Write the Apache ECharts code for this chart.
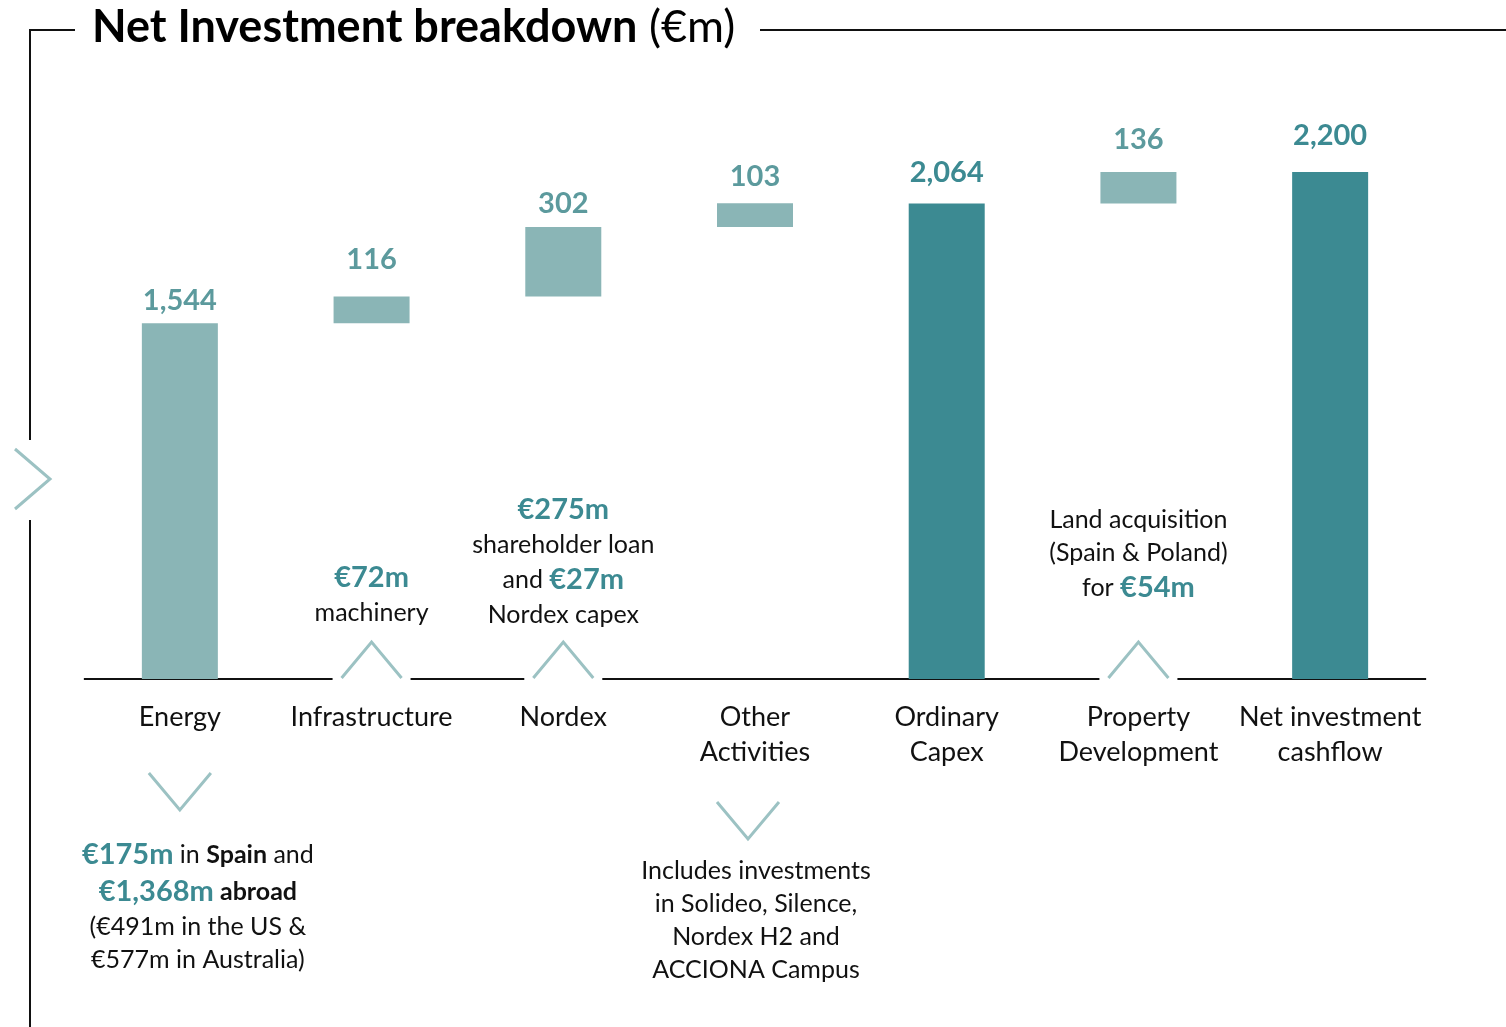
<!DOCTYPE html>
<html>
<head>
<meta charset="utf-8">
<title>Net Investment breakdown</title>
<script src="https://cdn.jsdelivr.net/npm/echarts@6/dist/echarts.min.js"></script>
<style>
  html, body { margin: 0; padding: 0; background: #fff; }
  #chart { width: 1506px; height: 1027px; }
</style>
</head>
<body>
<div id="chart"></div>
<script>
// data
const categories = ['Energy', 'Infrastructure', 'Nordex', 'Other\nActivities', 'Ordinary\nCapex', 'Property\nDevelopment', 'Net investment\ncashflow']
const values = [1544, 116, 302, 103, 2064, 136, 2200]
const isTotal = [false, false, false, false, true, false, true]

// notes above the axis (chevron pointing up) and below (chevron pointing down)
const notesAbove = [
  { cat: 'Infrastructure', lines: ['{hl|€72m}', '{t|machinery}'] },
  { cat: 'Nordex', lines: ['{hl|€275m}', '{t|shareholder loan}', '{t|and }{hl|€27m}', '{t|Nordex capex}'] },
  { cat: 'Property\nDevelopment', lines: ['{t|Land acquisition}', '{t|(Spain & Poland)}', '{t|for }{hl|€54m}'] }
]
const notesBelow = [
  { cat: 'Energy', lines: ['{hl|€175m}{t| in }{b|Spain}{t| and}', '{hl|€1,368m}{b| abroad}', '{t|(€491m in the US &}', '{t|€577m in Australia)}'] },
  { cat: 'Other\nActivities', lines: ['{t|Includes investments}', '{t|in Solideo, Silence,}', '{t|Nordex H2 and}', '{t|ACCIONA Campus}'] }
]

const LIGHT = '#8ab5b6'
const DARK = '#3c8a92'
const LABEL_LIGHT = '#5c9a9d'
const CHEV = '#9cc2c3'
const FONT = 'Lato, "Open Sans", sans-serif'
// gap between bar top and its value label, per bar
const labelGap = [8, 22, 9, 12, 16, 18, 22]

// running bases of the waterfall
const bases = []
let run = 0
values.forEach((v, i) => {
  if (isTotal[i]) {
    bases.push(0)
    run = v
  } else {
    bases.push(run)
    run += v
  }
})

const chart = echarts.init(document.getElementById('chart'))

const option = {
  animation: false,
  textStyle: { fontFamily: FONT },
  grid: { left: 84, right: 80, top: 103, bottom: 348 },
  xAxis: {
    type: 'category',
    data: categories,
    axisLine: { show: false },
    axisTick: { show: false },
    axisLabel: {
      interval: 0,
      margin: 21,
      fontSize: 27,
      lineHeight: 35,
      color: '#111',
      fontFamily: FONT
    }
  },
  yAxis: {
    type: 'value',
    min: 0,
    max: 2500,
    show: false,
    splitLine: { show: false }
  },
  series: [
    {
      type: 'bar',
      stack: 'w',
      barWidth: 76,
      silent: true,
      itemStyle: { color: 'transparent' },
      data: bases
    },
    {
      type: 'bar',
      stack: 'w',
      barWidth: 76,
      data: values.map((v, i) => ({
        value: v,
        itemStyle: { color: isTotal[i] ? DARK : LIGHT },
        label: { color: isTotal[i] ? DARK : LABEL_LIGHT, distance: labelGap[i] }
      })),
      label: {
        show: true,
        position: 'top',
        fontSize: 29,
        fontWeight: 'bold',
        fontFamily: FONT,
        formatter: p => p.value.toLocaleString('en-US')
      }
    }
  ]
}

chart.setOption(option)

// decorations placed from the axes
const axisY = chart.convertToPixel({ yAxisIndex: 0 }, 0)
const xOf = c => chart.convertToPixel({ xAxisIndex: 0 }, c)
const left = xOf(categories[0]) - 96
const right = xOf(categories[categories.length - 1]) + 96

const rich = {
  t: { fontSize: 25, fill: '#111', fontFamily: FONT, lineHeight: 33 },
  b: { fontSize: 25, fill: '#111', fontWeight: 'bold', fontFamily: FONT, lineHeight: 33 },
  hl: { fontSize: 29, fill: DARK, fontWeight: 'bold', fontFamily: FONT, lineHeight: 37 }
}

const graphics = []
const lineStyle = { stroke: '#111', lineWidth: 2 }

// baseline broken where the up-chevrons sit
const gapHalf = 39
const gaps = notesAbove.map(n => xOf(n.cat)).sort((a, b) => a - b)
let segStart = left
gaps.forEach(g => {
  graphics.push({ type: 'line', shape: { x1: segStart, y1: axisY, x2: g - gapHalf, y2: axisY }, style: lineStyle })
  segStart = g + gapHalf
})
graphics.push({ type: 'line', shape: { x1: segStart, y1: axisY, x2: right, y2: axisY }, style: lineStyle })

const chevStyle = { stroke: CHEV, lineWidth: 3, fill: null }
const aboveTop = { 'Infrastructure': 120, 'Nordex': 188, 'Property\nDevelopment': 176 }
notesAbove.forEach(n => {
  const x = xOf(n.cat)
  graphics.push({
    type: 'polyline',
    shape: { points: [[x - 30, axisY - 1], [x, axisY - 37], [x + 30, axisY - 1]] },
    style: chevStyle
  })
  graphics.push({
    type: 'text',
    style: { x: x, y: axisY - aboveTop[n.cat], text: n.lines.join('\n'), rich: rich, align: 'center', verticalAlign: 'top' }
  })
})

const belowChev = { 'Energy': 94, 'Other\nActivities': 123 }
const belowChevDx = { 'Energy': 0, 'Other\nActivities': -7 }
const belowText = { 'Energy': 157, 'Other\nActivities': 175 }
const belowDx = { 'Energy': 18, 'Other\nActivities': 1 }
notesBelow.forEach(n => {
  const x = xOf(n.cat)
  const cx = x + belowChevDx[n.cat]
  const top = axisY + belowChev[n.cat]
  graphics.push({
    type: 'polyline',
    shape: { points: [[cx - 31, top], [cx, top + 37], [cx + 31, top]] },
    style: chevStyle
  })
  graphics.push({
    type: 'text',
    style: { x: x + belowDx[n.cat], y: axisY + belowText[n.cat], text: n.lines.join('\n'), rich: rich, align: 'center', verticalAlign: 'top' }
  })
})

// frame and title
graphics.push(
  { type: 'line', shape: { x1: 30, y1: 30, x2: 75, y2: 30 }, style: lineStyle },
  { type: 'line', shape: { x1: 760, y1: 30, x2: 1506, y2: 30 }, style: lineStyle },
  { type: 'line', shape: { x1: 30, y1: 29, x2: 30, y2: 440 }, style: lineStyle },
  { type: 'line', shape: { x1: 30, y1: 520, x2: 30, y2: 1027 }, style: lineStyle },
  { type: 'polyline', shape: { points: [[15, 449], [50, 479], [15, 509]] }, style: chevStyle },
  {
    type: 'text',
    style: {
      x: 92,
      y: 27,
      text: '{b|Net Investment breakdown}{r| (€m)}',
      verticalAlign: 'middle',
      rich: {
        b: { fontSize: 45, fontWeight: 'bold', fill: '#000', fontFamily: FONT },
        r: { fontSize: 45, fill: '#000', fontFamily: FONT }
      }
    }
  }
)

chart.setOption({ graphic: graphics })
</script>
</body>
</html>
